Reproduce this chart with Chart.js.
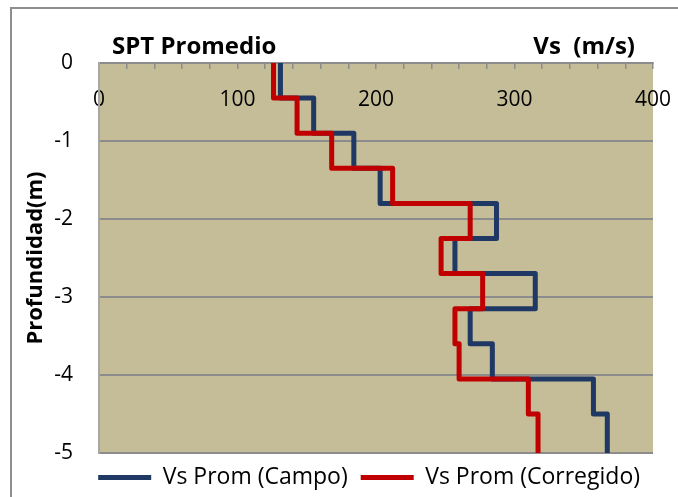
<!DOCTYPE html>
<html>
<head>
<meta charset="utf-8">
<script src="https://cdn.jsdelivr.net/npm/chart.js@4.4.1/dist/chart.umd.min.js"></script>
<style>
  html, body { margin: 0; padding: 0; background: #fff; }
  #marco { position: relative; width: 678px; height: 497px; overflow: hidden; }
  #borde { position: absolute; left: 10px; top: 7px; right: -10px; bottom: -10px;
           border-top: 2px solid #8e8e8e; border-left: 2px solid #8e8e8e; }
  canvas { position: absolute; left: 0; top: 0; }
</style>
</head>
<body>
<div id="marco">
  <div id="borde"></div>
  <canvas id="canvas-vs" width="678" height="497"></canvas>
</div>
<script>
// Limites de los estratos (m) y Vs promedio de cada estrato (m/s)
var limitesEstrato = [0, 0.45, 0.9, 1.35, 1.8, 2.25, 2.7, 3.15, 3.6, 4.05, 4.5, 5];
var vsCampo = [131, 155, 184, 203, 287, 257, 315, 268, 284, 357, 367];
var vsCorregido = [126, 143, 168, 212, 268, 247, 277, 257, 260, 310, 317];
var ticksProfundidad = [0, -1, -2, -3, -4, -5];
var ticksVs = [0, 100, 200, 300, 400];

// cada estrato es un tramo vertical, se unen con tramos horizontales
function escalones(valores) {
    var puntos = [];
    valores.forEach((v, i) => {
        puntos.push({ x: v, y: -limitesEstrato[i] });
        puntos.push({ x: v, y: -limitesEstrato[i + 1] });
    });
    return puntos;
}

// marcas menores del eje Vs cada 20
var marcasVs = [];
for (var m = 0; m <= 400; m += 20) marcasVs.push({ value: m });

var fuente = "Open Sans";
var azul = "#1F3864";
var rojo = "#C00000";

var fondoYTitulos = {
    id: "fondoYTitulos",
    beforeDraw(chart) {
        var ctx = chart.ctx, a = chart.chartArea;
        ctx.save();
        ctx.fillStyle = "#C4BD97";
        ctx.fillRect(a.left, a.top, a.right - a.left, a.bottom - a.top);
        ctx.restore();
    },
    afterDraw(chart) {
        var ctx = chart.ctx, a = chart.chartArea;
        ctx.save();
        ctx.fillStyle = "#000";
        ctx.font = "bold 24px '" + fuente + "'";
        ctx.textBaseline = "middle";
        ctx.textAlign = "left";
        ctx.fillText("SPT Promedio", a.left + 13, a.top - 16);
        ctx.textAlign = "right";
        ctx.fillText("Vs  (m/s)", a.right - 18, a.top - 16);
        ctx.restore();
    }
};

var contexto = document.getElementById("canvas-vs").getContext("2d");
var chartVs = new Chart(contexto, {
    type: "line",
    data: {
        datasets: [
            {
                label: "Vs Prom (Campo)",
                data: escalones(vsCampo),
                borderColor: azul,
                backgroundColor: azul,
                pointBorderColor: azul,
                pointBackgroundColor: azul,
                pointBorderWidth: 5,
                order: 1
            },
            {
                label: "Vs Prom (Corregido)",
                data: escalones(vsCorregido),
                borderColor: rojo,
                backgroundColor: rojo,
                pointBorderColor: rojo,
                pointBackgroundColor: rojo,
                pointBorderWidth: 5,
                order: 0
            }
        ]
    },
    options: {
        responsive: false,
        animation: false,
        devicePixelRatio: 1,
        layout: { padding: { left: 11, top: 8, right: 25, bottom: 0 } },
        elements: {
            line: { borderWidth: 5, borderJoinStyle: "round", borderCapStyle: "round", tension: 0, fill: false },
            point: { radius: 0, hoverRadius: 0 }
        },
        plugins: {
            tooltip: { enabled: false },
            legend: {
                position: "bottom",
                align: "end",
                maxHeight: 44,
                labels: {
                    usePointStyle: true,
                    pointStyle: "line",
                    pointStyleWidth: 53,
                    padding: 13,
                    color: "#000",
                    font: { family: fuente, size: 23 },
                    sort: (a, b) => a.datasetIndex - b.datasetIndex
                }
            }
        },
        scales: {
            x: {
                type: "linear",
                position: "top",
                min: 0,
                max: 400,
                afterBuildTicks: (scale) => { scale.ticks = marcasVs.slice(); },
                afterFit: (scale) => {
                    scale.height = 55;
                    scale.paddingLeft = 0;
                    scale.paddingRight = 0;
                },
                grid: { drawOnChartArea: false, drawTicks: true, tickLength: -6, color: "#8c8c8c", lineWidth: 1.5 },
                border: { display: true, color: "#8c8c8c", width: 2 },
                ticks: {
                    autoSkip: false,
                    maxRotation: 0,
                    mirror: true,
                    padding: 24,
                    color: "#000",
                    font: { family: fuente, size: 21 },
                    callback: (v) => (ticksVs.includes(v) ? String(v) : "")
                }
            },
            y: {
                type: "linear",
                min: -5,
                max: 0,
                afterBuildTicks: (scale) => { scale.ticks = ticksProfundidad.map((v) => ({ value: v })); },
                afterFit: (scale) => { scale.width = 88; },
                grid: { color: "#8c8c8c", lineWidth: 2, drawTicks: false },
                border: { display: true, color: "#a6a6a6", width: 2 },
                ticks: { padding: 26, color: "#000", font: { family: fuente, size: 21 } },
                title: {
                    display: true,
                    text: "Profundidad(m)",
                    color: "#000",
                    font: { family: fuente, size: 22, weight: "bold" },
                    padding: { top: 12, bottom: 0 }
                }
            }
        }
    },
    plugins: [fondoYTitulos]
});
</script>
</body>
</html>
